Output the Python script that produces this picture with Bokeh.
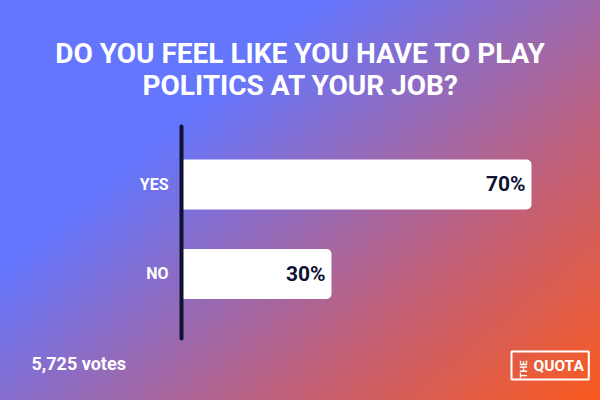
from bokeh.plotting import figure
from bokeh.models import FactorRange, Range1d, Label, ColumnDataSource
from bokeh.transform import dodge
from bokeh.core.properties import value
from bokeh.embed import file_html
from bokeh.resources import INLINE

# ---- data ----
answers = ["YES", "NO"]
shares = [70, 30]
share_labels = ["70%", "30%"]
title_lines = ["DO YOU FEEL LIKE YOU HAVE TO PLAY", "POLITICS AT YOUR JOB?"]
votes_text = "5,725 votes"

NAVY = "#0F1232"
W, H = 600, 400
AXIS_PX = 181            # screen x of the value axis (zero)
PX_PER_UNIT = 5.0        # px per percentage point
CAT_PX = 89.5            # px between category centres
SHIFT = -0.3212          # categorical offset (moves bars down from canvas centre)

source = ColumnDataSource(dict(answer=answers, share=shares, label=share_labels))

p = figure(
    width=W, height=H,
    y_range=FactorRange(factors=answers[::-1],
                        range_padding=(H / CAT_PX - 2) / 2,
                        range_padding_units="absolute"),
    x_range=Range1d(-AXIS_PX / PX_PER_UNIT, (W - AXIS_PX) / PX_PER_UNIT),
    x_axis_location=None, y_axis_location=None,
    output_backend="svg", toolbar_location=None,
    min_border=0,
)
p.styles = {
    "background-image": "linear-gradient(140deg, #6476FE 0%, #6476FE 30%, #C0607A 70%, #FA5A1E 100%)",
}
p.background_fill_alpha = 0
p.border_fill_alpha = 0
p.outline_line_color = None
p.xgrid.grid_line_color = None
p.ygrid.grid_line_color = None

ypos = dodge("answer", SHIFT, range=p.y_range)

p.hbar(y=ypos, right="share", left=0, height=50 / CAT_PX, source=source,
       fill_color="white", line_color=None, border_radius=(0, 5, 5, 0))

# category axis line (rounded ends)
p.segment(x0=[0], x1=[0],
          y0=[(answers[0], SHIFT + 58 / CAT_PX)],
          y1=[(answers[-1], SHIFT - 64.5 / CAT_PX)],
          line_color=NAVY, line_width=4, line_cap="round")

# category labels
p.text(x=0, y=ypos, text="answer", source=source, x_offset=-13,
       text_align="right", text_baseline="middle",
       text_font=value("Roboto"), text_font_style="bold", text_font_size="16px",
       text_color="white")

# value labels
p.text(x="share", y=ypos, text="label", source=source, x_offset=-6,
       text_align="right", text_baseline="middle",
       text_font=value("Roboto"), text_font_style="bold", text_font_size="21px",
       text_color=NAVY)

for i, line in enumerate(title_lines):
    p.add_layout(Label(x=300, y=346.7 - 31.7 * i, x_units="screen", y_units="screen",
                       text=line, text_align="center", text_baseline="middle",
                       text_font="Roboto", text_font_style="bold", text_font_size="28px",
                       text_color="white"))

p.add_layout(Label(x=31, y=37.5, x_units="screen", y_units="screen",
                   text=votes_text, text_align="left", text_baseline="middle",
                   text_font="Roboto", text_font_style="bold", text_font_size="18px",
                   text_color="white"))

p.add_layout(Label(x=511, y=49, x_units="screen", y_units="screen",
                   text="QUOTA", text_align="left", text_baseline="top",
                   text_font="Roboto", text_font_style="bold", text_font_size="15.5px",
                   text_color="white", border_line_color="white", border_line_width=2,
                   padding={"left": 22, "right": 5, "top": 5, "bottom": 5}))

p.add_layout(Label(x=523.3, y=31, x_units="screen", y_units="screen",
                   text="THE", angle=1.5708, text_align="center", text_baseline="middle",
                   text_font="Roboto", text_font_style="bold", text_font_size="9.5px",
                   text_color="white"))

open("out.html", "w").write(file_html(p, INLINE))
